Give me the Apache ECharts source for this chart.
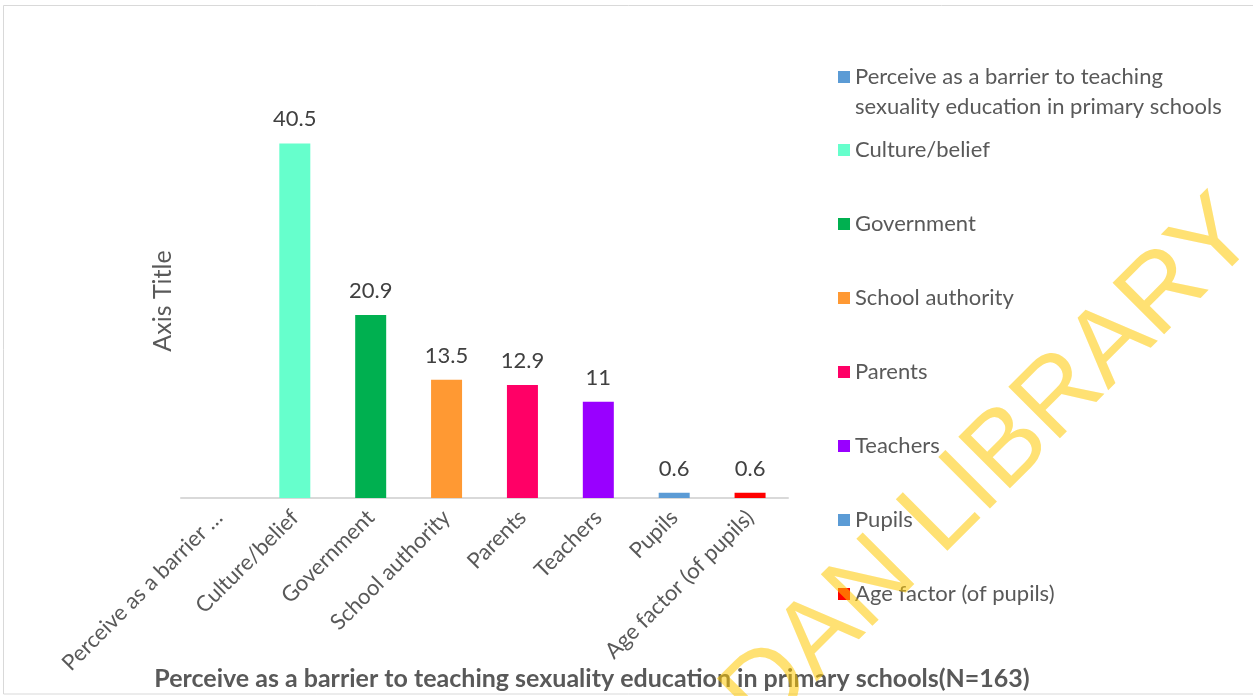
<!DOCTYPE html>
<html>
<head>
<meta charset="utf-8">
<script src="https://cdn.jsdelivr.net/npm/echarts@6/dist/echarts.min.js"></script>
<style>
html,body{margin:0;padding:0;background:#fff;}
#main{width:1253px;height:696px;}
</style>
</head>
<body>
<div id="main"></div>
<script>
var categories = ['Perceive as a barrier to teaching sexuality education in primary schools', 'Culture/belief', 'Government', 'School authority', 'Parents', 'Teachers', 'Pupils', 'Age factor (of pupils)'];
var values = [null, 40.5, 20.9, 13.5, 12.9, 11, 0.6, 0.6];
var colors = ['#5B9BD5', '#66FFCC', '#00B050', '#FF9933', '#FF0066', '#9900FF', '#5B9BD5', '#FF0000'];
var chartTitle = 'Perceive as a barrier to teaching sexuality education in primary schools(N=163)';
var yAxisTitle = 'Axis Title';

var FONT = 'Lato';
var chart = echarts.init(document.getElementById('main'));

var series = categories.map(function (name, i) {
  return {
    name: name,
    type: 'bar',
    stack: 'all',
    barWidth: 31,
    itemStyle: { color: colors[i] },
    label: {
      show: true, position: 'top', distance: 13,
      color: '#404040', fontSize: 22, fontFamily: FONT
    },
    data: categories.map(function (c, j) {
      return (j === i && values[i] !== null) ? values[i] : '-';
    })
  };
});

var legendText = { color: '#595959', fontSize: 22, fontFamily: FONT };

chart.setOption({
  animation: false,
  backgroundColor: '#fff',
  title: {
    text: chartTitle,
    left: 587, top: 661, textAlign: 'center',
    textStyle: { color: '#595959', fontSize: 25, fontWeight: 'bold', fontFamily: FONT }
  },
  legend: [{
    orient: 'vertical', left: 838, top: 32, padding: 0,
    itemWidth: 12, itemHeight: 12, icon: 'rect',
    data: [categories[0]],
    formatter: function () { return '\nPerceive as a barrier to teaching\nsexuality education in primary schools'; },
    textStyle: Object.assign({ lineHeight: 30 }, legendText)
  }, {
    orient: 'vertical', left: 838, top: 138, padding: 0,
    itemWidth: 12, itemHeight: 12, icon: 'rect', itemGap: 50,
    data: categories.slice(1),
    textStyle: Object.assign({ lineHeight: 24 }, legendText)
  }],
  grid: { left: 181, right: 465, top: 104, bottom: 198, containLabel: false },
  xAxis: {
    type: 'category',
    data: categories,
    axisLine: { lineStyle: { color: '#D9D9D9', width: 2 } },
    axisTick: { show: false },
    axisLabel: {
      rotate: 45, interval: 0, margin: 16,
      color: '#595959', fontSize: 22, fontFamily: FONT,
      formatter: function (v) { return v.length > 30 ? v.slice(0, 21) + ' \u2026' : v; }
    }
  },
  yAxis: {
    type: 'value', min: 0, max: 45,
    name: yAxisTitle, nameLocation: 'middle', nameRotate: 90, nameGap: 6,
    nameTextStyle: { color: '#595959', fontSize: 25, fontFamily: FONT },
    axisLine: { show: false }, axisTick: { show: false },
    axisLabel: { show: false }, splitLine: { show: false }
  },
  graphic: [{
    type: 'rect', z: 100, silent: true,
    shape: { x: 3.5, y: 5.5, width: 1270, height: 688.5 },
    style: { fill: 'none', stroke: '#D9D9D9', lineWidth: 1 }
  }, {
    type: 'text', z: 200, silent: true,
    x: 1240, y: 217, rotation: Math.PI / 4,
    style: {
      text: 'UNIVERSITY OF IBADAN LIBRARY',
      fontFamily: 'Liberation Sans', fontSize: 106,
      fill: 'rgba(255,200,0,0.55)',
      align: 'right', verticalAlign: 'middle'
    }
  }],
  series: series
});
</script>
</body>
</html>
